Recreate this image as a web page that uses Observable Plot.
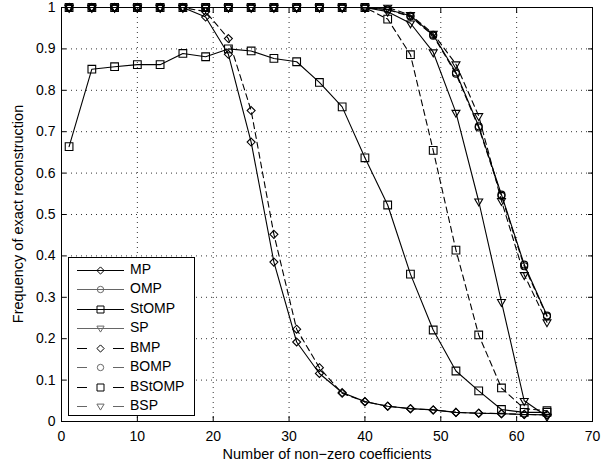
<!DOCTYPE html>
<html>
<head>
<meta charset="utf-8">
<script src="https://cdn.jsdelivr.net/npm/d3@7"></script>
<script src="https://cdn.jsdelivr.net/npm/@observablehq/plot@0.6"></script>
<style>
  html, body { margin: 0; padding: 0; background: #fff; }
  #chart { width: 614px; height: 469px; }
</style>
</head>
<body>
<div id="chart"></div>
<script>
// ---- data ----
const kValues = [1, 4, 7, 10, 13, 16, 19, 22, 25, 28, 31, 34, 37, 40, 43, 46, 49, 52, 55, 58, 61, 64];
const MP     = [1, 1, 1, 1, 1, 1, 0.977, 0.887, 0.675, 0.385, 0.192, 0.116, 0.070, 0.048, 0.037, 0.031, 0.028, 0.022, 0.020, 0.019, 0.017, 0.016];
const OMP    = [1, 1, 1, 1, 1, 1, 1, 1, 1, 1, 1, 1, 1, 1, 0.995, 0.980, 0.934, 0.843, 0.713, 0.548, 0.379, 0.256];
const StOMP  = [0.664, 0.851, 0.857, 0.862, 0.862, 0.889, 0.881, 0.900, 0.895, 0.877, 0.869, 0.819, 0.760, 0.637, 0.523, 0.356, 0.221, 0.122, 0.074, 0.029, 0.022, 0.022];
const SP     = [1, 1, 1, 1, 1, 1, 1, 1, 1, 1, 1, 1, 1, 1, 0.990, 0.962, 0.892, 0.746, 0.532, 0.289, 0.050, 0.012];
const BMP    = [1, 1, 1, 1, 1, 1, 0.990, 0.925, 0.751, 0.452, 0.223, 0.130, 0.068, 0.048, 0.037, 0.031, 0.028, 0.022, 0.020, 0.019, 0.017, 0.016];
const BOMP   = [1, 1, 1, 1, 1, 1, 1, 1, 1, 1, 1, 1, 1, 1, 0.995, 0.978, 0.932, 0.840, 0.710, 0.545, 0.375, 0.254];
const BStOMP = [1, 1, 1, 1, 1, 1, 1, 1, 1, 1, 1, 1, 1, 1, 0.972, 0.886, 0.655, 0.414, 0.209, 0.081, 0.031, 0.026];
const BSP    = [1, 1, 1, 1, 1, 1, 1, 1, 1, 1, 1, 1, 1, 1, 1.000, 0.982, 0.937, 0.863, 0.738, 0.533, 0.354, 0.240];

const seriesNames = ["MP", "OMP", "StOMP", "SP", "BMP", "BOMP", "BStOMP", "BSP"];
const seriesValues = [MP, OMP, StOMP, SP, BMP, BOMP, BStOMP, BSP];
const seriesMarker = ["diamond", "circle", "square", "triangle", "diamond", "circle", "square", "triangle"];
const seriesDashed = [false, false, false, false, true, true, true, true];

const xTicks = [0, 10, 20, 30, 40, 50, 60, 70];
const yTicks = [0, 0.1, 0.2, 0.3, 0.4, 0.5, 0.6, 0.7, 0.8, 0.9, 1];
const xLabel = "Number of non\u2212zero coefficients";
const yLabel = "Frequency of exact reconstruction";

// ---- styling helpers ----
const FONT = "'Liberation Sans', Arial, Helvetica, sans-serif";
const symbolOpts = {
  diamond:  {symbol: "diamond2", r: 3.6, rotate: 0},
  circle:   {symbol: "circle",   r: 3.5, rotate: 0},
  square:   {symbol: "square2",  r: 4.9, rotate: 0},
  triangle: {symbol: "triangle2", r: 3.8, rotate: 180}
};

const marks = [
  Plot.gridX(xTicks.slice(1, -1), {stroke: "#000", strokeOpacity: 0.8, strokeDasharray: "1,4"}),
  Plot.gridY(yTicks.slice(1, -1), {stroke: "#000", strokeOpacity: 0.8, strokeDasharray: "1,4"}),
  Plot.frame({stroke: "#000", strokeWidth: 1}),
  Plot.axisX(xTicks, {anchor: "bottom", tickSize: -5, tickPadding: 15, label: null, tickFormat: d => String(d)}),
  Plot.axisX(xTicks, {anchor: "top", tickSize: -5, label: null, tickFormat: () => ""}),
  Plot.axisY(yTicks, {anchor: "left", tickSize: -5, tickPadding: 11, label: null, tickFormat: d => String(d)}),
  Plot.axisY(yTicks, {anchor: "right", tickSize: -5, label: null, tickFormat: () => ""})
];

seriesNames.forEach((name, i) => {
  const rows = kValues.map((k, j) => ({k, v: seriesValues[i][j]}));
  marks.push(Plot.line(rows, {
    x: "k", y: "v", stroke: "#000", strokeWidth: 1.1,
    strokeDasharray: seriesDashed[i] ? "6,4" : null
  }));
  const s = symbolOpts[seriesMarker[i]];
  marks.push(Plot.dot(rows, {
    x: "k", y: "v", symbol: s.symbol, r: s.r, rotate: s.rotate,
    fill: "none", stroke: "#000", strokeWidth: 1.1
  }));
});

const chart = Plot.plot({
  width: 614,
  height: 469,
  marginLeft: 61,
  marginRight: 22,
  marginTop: 7,
  marginBottom: 48,
  x: {domain: [0, 70]},
  y: {domain: [0, 1]},
  style: {fontFamily: FONT, fontSize: "14px", background: "#fff", color: "#000", overflow: "visible"},
  marks
});

document.getElementById("chart").appendChild(chart);

// ---- axis titles and legend (drawn into the same SVG) ----
const svg = d3.select(chart);
svg.append("text")
  .attr("x", 327).attr("y", 455)
  .attr("text-anchor", "middle").attr("dominant-baseline", "middle")
  .style("font-family", FONT).style("font-size", "14.5px").attr("fill", "#000")
  .text(xLabel);
svg.append("text")
  .attr("transform", "translate(19,214) rotate(-90)")
  .attr("text-anchor", "middle").attr("dominant-baseline", "middle")
  .style("font-family", FONT).style("font-size", "14.5px").attr("fill", "#000")
  .text(yLabel);

const lg = svg.append("g").attr("class", "legend");
lg.append("rect")
  .attr("x", 68.5).attr("y", 257.5).attr("width", 126).attr("height", 158)
  .attr("fill", "#fff").attr("stroke", "#000").attr("stroke-width", 1);

const legendSymbolPath = {
  diamond: "M0,-3.6L3.6,0L0,3.6L-3.6,0Z",
  circle: "M3.2,0A3.2,3.2,0,1,1,-3.2,0A3.2,3.2,0,1,1,3.2,0Z",
  square: "M-3.5,-3.5H3.5V3.5H-3.5Z",
  triangle: "M-3.6,-2.4H3.6L0,3.6Z"
};

seriesNames.forEach((name, i) => {
  const cy = Math.round(270 + i * 19.45) + 0.5;
  const col = (i % 2 === 1) ? "#666" : "#000";
  if (seriesDashed[i]) {
    lg.append("line").attr("x1", 77).attr("x2", 87).attr("y1", cy).attr("y2", cy).attr("stroke", col);
    lg.append("line").attr("x1", 113).attr("x2", 124).attr("y1", cy).attr("y2", cy).attr("stroke", col);
  } else {
    lg.append("line").attr("x1", 77).attr("x2", 124).attr("y1", cy).attr("y2", cy).attr("stroke", col);
  }
  lg.append("path")
    .attr("d", legendSymbolPath[seriesMarker[i]])
    .attr("transform", `translate(100.5,${cy})`)
    .attr("fill", "none").attr("stroke", col).attr("stroke-width", 1);
  lg.append("text")
    .attr("x", 130).attr("y", cy)
    .attr("text-anchor", "start")
    .attr("dominant-baseline", "middle")
    .style("font-family", FONT).style("font-size", "14px").attr("fill", "#000")
    .text(name);
});
</script>
</body>
</html>
